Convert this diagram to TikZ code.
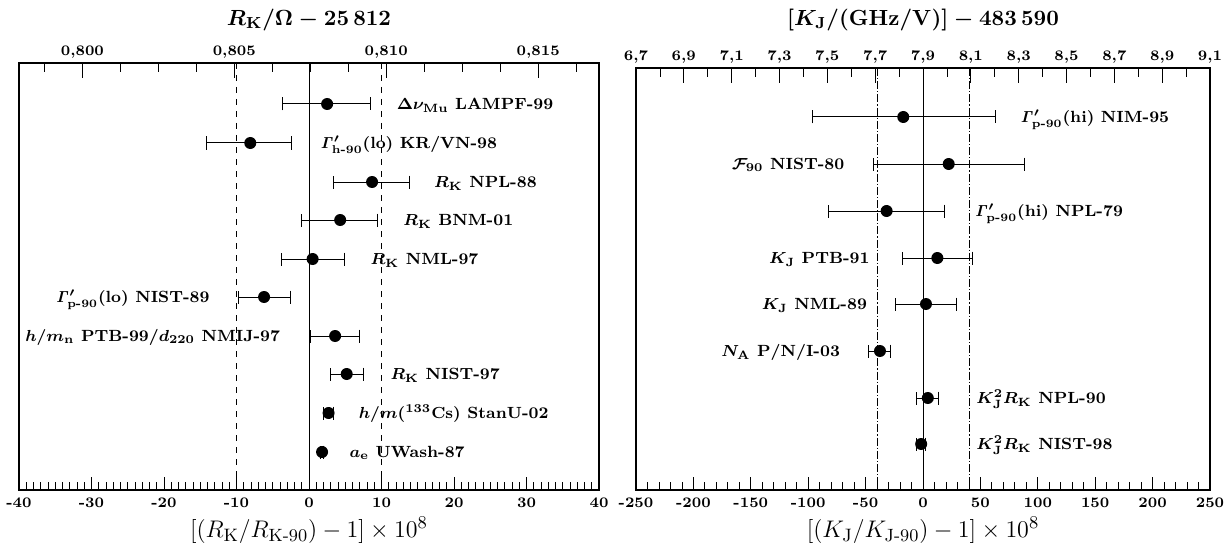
\documentclass[tikz,border=0pt]{standalone}
\usepackage{amsmath, amssymb}
\usetikzlibrary{arrows.meta, positioning}
\tikzset{
  panel/.style={draw, line width=0.7pt},
  errbar/.style={{Bar[width=6.5pt]}-{Bar[width=6.5pt]}, line width=0.5pt},
  point/.style={circle, fill=black, inner sep=0pt, minimum size=6pt},
  lbl/.style={font=\fontsize{8.1}{10}\selectfont\bfseries\boldmath, inner sep=0pt, text height=6.5pt, text depth=1pt},
  ticklbl/.style={font=\fontsize{7.3}{9}\selectfont\bfseries, inner sep=0pt},
  toptitle/.style={font=\fontsize{11.2}{13}\selectfont\boldmath, inner sep=0pt},
  axtitle/.style={font=\fontsize{12.7}{15}\selectfont, inner sep=0pt},
  tick/.style={line width=0.4pt},
  zeroline/.style={line width=0.5pt},
  limitK/.style={dashed, line width=0.4pt},
  limitJ/.style={dash pattern=on 4pt off 1pt on 0.6pt off 1pt, line width=0.4pt}
}

\begin{document}
\begin{tikzpicture}[x=0.5pt, y=-0.5pt]
    \useasboundingbox (0,0) rectangle (1231,551);

    % R_K panel
    \begin{scope}[xshift=154.5pt, x=3.625pt]
        \node[toptitle] (titleRK) at (0,20) {$R_{\mathrm K}/\Omega - 25\,812$};
        \node[axtitle] (axisRK) at (0,530) {$[(R_{\mathrm K}/R_{\text{K-90}}) - 1] \times 10^8$};
        \draw[panel] (-40,63) rectangle (40,490);
        \draw[zeroline] (0,63) -- (0,490);
        \draw[limitK] (-10,63) -- (-10,490);
        \draw[limitK] (10,63) -- (10,490);
        % ticks
        \foreach \u in {-39,...,39} \draw[tick] (\u,490) -- (\u,482);
        \foreach \u in {-30,-20,...,30} \draw[tick] (\u,490) -- (\u,477);
        \foreach \u in {-40,-30,...,40} \node[ticklbl] at (\u,503) {\u};
        \foreach \k in {0,...,14} \draw[tick] ({-36.5+5.24*\k},63) -- ++(0,9);
        \foreach \u/\v in {-31.26/0{,}800, -10.3/0{,}805, 10.66/0{,}810, 31.62/0{,}815} {
            \draw[tick] (\u,63) -- ++(0,15);
            \node[ticklbl] at (\u,52) {\v};
        }

        % measurements
        \coordinate (lampfA) at (-3.7,104); \coordinate (lampfB) at (8.6,104);
        \draw[errbar] (lampfA) -- (lampfB);
        \node[point] (lampf) at (2.5,104) {};
        \node[lbl, right=12.5pt of lampfB] (lampfLbl) {$\Delta\nu_{\mathrm{Mu}}$ LAMPF-99};

        \coordinate (krvnA) at (-14.2,143); \coordinate (krvnB) at (-2.3,143);
        \draw[errbar] (krvnA) -- (krvnB);
        \node[point] (krvn) at (-8.1,143) {};
        \node[lbl, right=14pt of krvnB] (krvnLbl) {$\mathit{\Gamma}'_{\text{h-90}}(\text{lo})$ KR/VN-98};

        \coordinate (nplA) at (3.3,182); \coordinate (nplB) at (13.9,182);
        \draw[errbar] (nplA) -- (nplB);
        \node[point] (npl) at (8.7,182) {};
        \node[lbl, right=12pt of nplB] (nplLbl) {$R_{\mathrm K}$ NPL-88};

        \coordinate (bnmA) at (-1.1,220); \coordinate (bnmB) at (9.5,220);
        \draw[errbar] (bnmA) -- (bnmB);
        \node[point] (bnm) at (4.3,220) {};
        \node[lbl, right=12.5pt of bnmB] (bnmLbl) {$R_{\mathrm K}$ BNM-01};

        \coordinate (nmlA) at (-3.9,259); \coordinate (nmlB) at (5.0,259);
        \draw[errbar] (nmlA) -- (nmlB);
        \node[point] (nml) at (0.5,259) {};
        \node[lbl, right=12.5pt of nmlB] (nmlLbl) {$R_{\mathrm K}$ NML-97};

        \coordinate (nistloA) at (-9.8,297); \coordinate (nistloB) at (-2.5,297);
        \draw[errbar] (nistloA) -- (nistloB);
        \node[point] (nistlo) at (-6.2,297) {};
        \node[lbl, left=14pt of nistloA] (nistloLbl) {$\mathit{\Gamma}'_{\text{p-90}}(\text{lo})$ NIST-89};

        \coordinate (nmijA) at (0.2,336); \coordinate (nmijB) at (7.0,336);
        \draw[errbar] (nmijA) -- (nmijB);
        \node[point] (nmij) at (3.6,336) {};
        \node[lbl, left=15pt of nmijA] (nmijLbl) {$h/m_{\mathrm n}$ PTB-99/$d_{220}$ NMIJ-97};

        \coordinate (nistKA) at (2.9,374); \coordinate (nistKB) at (7.6,374);
        \draw[errbar] (nistKA) -- (nistKB);
        \node[point] (nistK) at (5.2,374) {};
        \node[lbl, right=13pt of nistKB] (nistKLbl) {$R_{\mathrm K}$ NIST-97};

        \coordinate (stanA) at (1.9,413); \coordinate (stanB) at (3.5,413);
        \draw[errbar] (stanA) -- (stanB);
        \node[point] (stan) at (2.7,413) {};
        \node[lbl, right=12pt of stanB] (stanLbl) {$h/m(^{133}\mathrm{Cs})$ StanU-02};

        \coordinate (uwashA) at (1.5,452); \coordinate (uwashB) at (2.1,452);
        \draw[errbar] (uwashA) -- (uwashB);
        \node[point] (uwash) at (1.8,452) {};
        \node[lbl, right=12.5pt of uwashB] (uwashLbl) {$a_{\mathrm e}$ UWash-87};
    \end{scope}

    % K_J panel
    \begin{scope}[xshift=461.5pt, x=0.574pt]
        \node[toptitle] (titleKJ) at (0,20) {$[K_{\mathrm J}/(\mathrm{GHz/V})] - 483\,590$};
        \node[axtitle] (axisKJ) at (0,530) {$[(K_{\mathrm J}/K_{\text{J-90}}) - 1] \times 10^8$};
        \draw[panel] (-250,68) rectangle (250,490);
        \draw[zeroline] (0,68) -- (0,490);
        \draw[limitJ] (-40,68) -- (-40,490);
        \draw[limitJ] (40,68) -- (40,490);
        % ticks
        \foreach \u in {-240,-230,...,240} \draw[tick] (\u,490) -- (\u,482);
        \foreach \u in {-200,-150,...,200} \draw[tick] (\u,490) -- (\u,477);
        \foreach \u in {-250,-200,...,250} \node[ticklbl] at (\u,503) {\u};
        \foreach \k in {0,...,24} \draw[tick] ({-250+20.833*\k},68) -- ++(0,9);
        \foreach \k/\v in {0/6{,}7, 1/6{,}9, 2/7{,}1, 3/7{,}3, 4/7{,}5, 5/7{,}7, 6/7{,}9,
                           7/8{,}1, 8/8{,}3, 9/8{,}5, 10/8{,}7, 11/8{,}9, 12/9{,}1} {
            \draw[tick] ({-250+41.667*\k},68) -- ++(0,15);
            \node[ticklbl] at ({-250+41.667*\k},57) {\v};
        }

        % measurements
        \coordinate (nimA) at (-96.5,117); \coordinate (nimB) at (63.8,117);
        \draw[errbar] (nimA) -- (nimB);
        \node[point] (nim) at (-17.2,117) {};
        \node[lbl, right=12pt of nimB] (nimLbl) {$\mathit{\Gamma}'_{\text{p-90}}(\text{hi})$ NIM-95};

        \coordinate (faradA) at (-43.8,164); \coordinate (faradB) at (88.9,164);
        \draw[errbar] (faradA) -- (faradB);
        \node[point] (farad) at (22.4,164) {};
        \node[lbl, left=14pt of faradA] (faradLbl) {$\mathcal{F}_{90}$ NIST-80};

        \coordinate (nplhiA) at (-82.7,211); \coordinate (nplhiB) at (19,211);
        \draw[errbar] (nplhiA) -- (nplhiB);
        \node[point] (nplhi) at (-31.7,211) {};
        \node[lbl, right=15pt of nplhiB] (nplhiLbl) {$\mathit{\Gamma}'_{\text{p-90}}(\text{hi})$ NPL-79};

        \coordinate (ptbA) at (-18.3,258); \coordinate (ptbB) at (43.8,258);
        \draw[errbar] (ptbA) -- (ptbB);
        \node[point] (ptb) at (12.5,258) {};
        \node[lbl, left=16pt of ptbA] (ptbLbl) {$K_{\mathrm J}$ PTB-91};

        \coordinate (nmlJA) at (-24.1,304); \coordinate (nmlJB) at (29.4,304);
        \draw[errbar] (nmlJA) -- (nmlJB);
        \node[point] (nmlJ) at (2.6,304) {};
        \node[lbl, left=14pt of nmlJA] (nmlJLbl) {$K_{\mathrm J}$ NML-89};

        \coordinate (pniA) at (-47.6,351); \coordinate (pniB) at (-27.6,351);
        \draw[errbar] (pniA) -- (pniB);
        \node[point] (pni) at (-37.5,351) {};
        \node[lbl, left=14pt of pniA] (pniLbl) {$N_{\mathrm A}$ P/N/I-03};

        \coordinate (nplwA) at (-5.8,398); \coordinate (nplwB) at (13.9,398);
        \draw[errbar] (nplwA) -- (nplwB);
        \node[point] (nplw) at (4.2,398) {};
        \node[lbl, right=18.5pt of nplwB] (nplwLbl) {$K_{\mathrm J}^2R_{\mathrm K}$ NPL-90};

        \coordinate (nistwA) at (-5.8,444); \coordinate (nistwB) at (2.6,444);
        \draw[errbar] (nistwA) -- (nistwB);
        \node[point] (nistw) at (-1.6,444) {};
        \node[lbl, anchor=west] (nistwLbl) at (nplwLbl.west |- nistw) {$K_{\mathrm J}^2R_{\mathrm K}$ NIST-98};
    \end{scope}
\end{tikzpicture}
\end{document}
